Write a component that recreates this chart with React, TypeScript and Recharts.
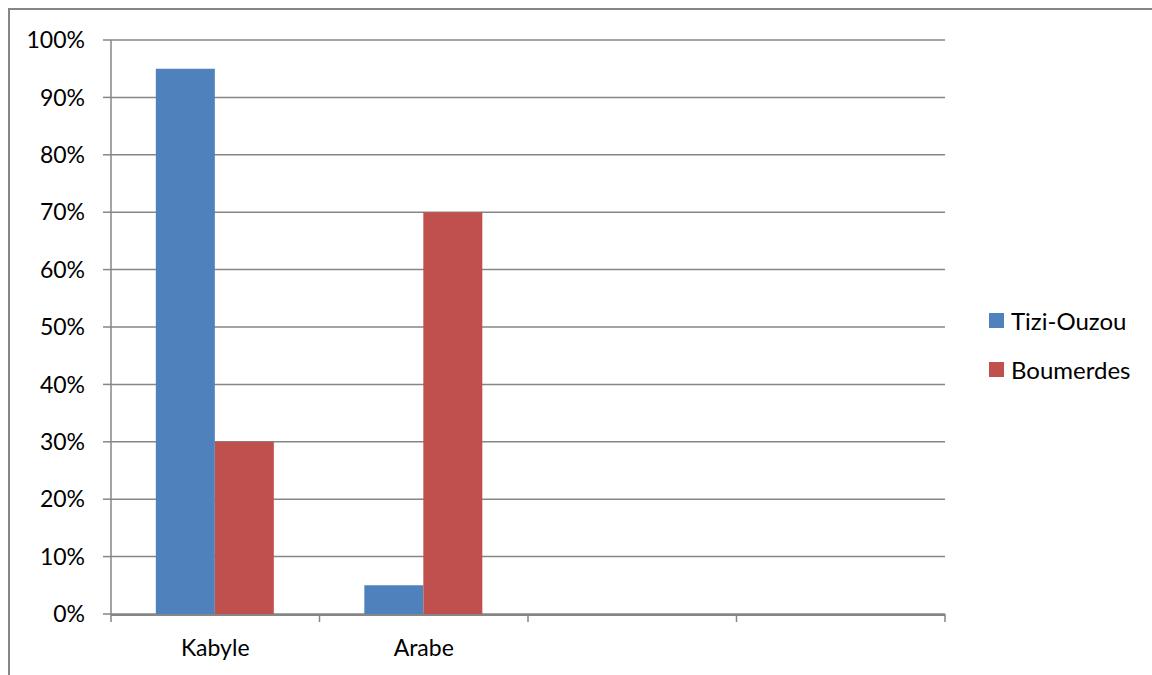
import React from "react";
import { BarChart, Bar, XAxis, YAxis, CartesianGrid } from "recharts";

const categories = ["Kabyle", "Arabe", "", ""];
const tiziOuzou = [95, 5, null, null];
const boumerdes = [30, 70, null, null];
const yTicks = [0, 10, 20, 30, 40, 50, 60, 70, 80, 90, 100];
const boundaryTicks = [0, 1, 2, 3, 4];
const seriesNames = ["Tizi-Ouzou", "Boumerdes"];
const seriesColors = ["#4F81BD", "#C0504D"];

const data = categories.map((c, i) => ({
  key: "c" + i,
  label: c,
  pos: i + 0.5,
  tizi: tiziOuzou[i],
  boum: boumerdes[i],
}));

const FONT = "Lato, 'Liberation Sans', sans-serif";
const GRAY = "#868686";
const FS = 23;

const BoundaryTick = (p: any) => (
  <line x1={p.x} x2={p.x} y1={p.y} y2={p.y + 8} stroke={GRAY} strokeWidth={1.5} />
);

export default function App() {
  return (
    <div style={{ position: "fixed", left: 0, top: 0, width: 1152, height: 675, overflow: "hidden", background: "#fff" }}>
      <div
        style={{
          position: "absolute",
          left: 8,
          top: 8,
          width: 1160,
          height: 700,
          borderLeft: `2px solid ${GRAY}`,
          borderTop: `2px solid ${GRAY}`,
          fontFamily: FONT,
        }}
      >
        <BarChart
          width={1142}
          height={665}
          data={data}
          margin={{ top: 30, left: 0, right: 207, bottom: 0 }}
          barCategoryGap="21.5%"
          barGap={0}
        >
          <CartesianGrid vertical={false} stroke={GRAY} strokeWidth={1.5} />
          <XAxis
            xAxisId="b"
            type="number"
            dataKey="pos"
            domain={[0, 4]}
            allowDataOverflow
            ticks={boundaryTicks}
            interval={0}
            tick={BoundaryTick}
            axisLine={false}
            tickLine={false}
            tickSize={0}
            tickMargin={0}
            height={1}
          />
          <XAxis
            xAxisId="m"
            dataKey="key"
            tickFormatter={(v: string, i: number) => categories[i] ?? ""}
            tick={{ fill: "#000", fontSize: FS, fontFamily: FONT }}
            axisLine={{ stroke: GRAY, strokeWidth: 2 }}
            tickLine={false}
            tickSize={0}
            tickMargin={25}
            height={60}
            interval={0}
          />
          <YAxis
            domain={[0, 100]}
            ticks={yTicks}
            interval={0}
            width={101}
            tickFormatter={(v: number) => `${v}%`}
            tick={{ fill: "#000", fontSize: FS, fontFamily: FONT }}
            axisLine={{ stroke: GRAY, strokeWidth: 1.5 }}
            tickLine={{ stroke: GRAY, strokeWidth: 1.5 }}
            tickSize={8}
            tickMargin={18}
          />
          <Bar xAxisId="m" dataKey="tizi" name={seriesNames[0]} fill={seriesColors[0]} isAnimationActive={false} />
          <Bar xAxisId="m" dataKey="boum" name={seriesNames[1]} fill={seriesColors[1]} isAnimationActive={false} />
        </BarChart>
        <div style={{ position: "absolute", left: 979, top: 286 }}>
          {seriesNames.map((n, i) => (
            <div key={n} style={{ display: "flex", alignItems: "center", height: 49 }}>
              <div style={{ width: 15, height: 15, background: seriesColors[i], marginRight: 7 }} />
              <span style={{ fontSize: FS + 1, color: "#000", fontFamily: FONT }}>{n}</span>
            </div>
          ))}
        </div>
      </div>
    </div>
  );
}
